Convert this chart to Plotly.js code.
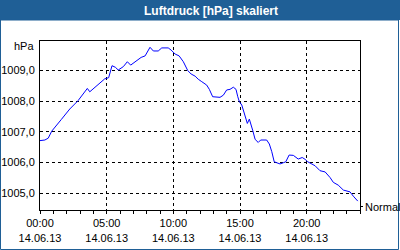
<!DOCTYPE html>
<html>
<head>
<meta charset="utf-8">
<script src="https://cdn.plot.ly/plotly-3.0.1.min.js"></script>
<style>html,body{margin:0;padding:0;background:#fff;}#chart{width:400px;height:250px;}</style>
</head>
<body>
<div id="chart"></div>
<script>
const day = "2013-06-14";
const times = ["00:00","00:22","00:37","00:53","01:36","02:14","02:51","03:14","03:33","03:44",
  "04:13","04:29","04:51","05:09","05:24","05:39","05:52","06:15","06:33","06:48",
  "07:08","07:35","07:53","08:15","08:30","08:52","09:08","09:37","09:50","10:08",
  "10:26","10:45","11:05","11:20","11:38","11:52","12:08","12:30","12:42","12:57",
  "13:30","13:45","14:00","14:15","14:30","14:42","14:50","14:57","15:08","15:23",
  "15:33","15:42","15:48","15:57","16:08","16:22","16:33","17:00","17:12","17:23",
  "17:34","17:50","18:00","18:15","18:26","18:41","19:00","19:22","19:40","19:53",
  "20:05","20:38","21:00","21:23","21:45","22:00","22:22","22:45","23:15","23:30","23:50"];
const pressure = [1006.71,1006.73,1006.79,1007.02,1007.40,1007.74,1008.01,1008.22,1008.41,1008.30,
  1008.47,1008.58,1008.72,1008.76,1009.15,1009.10,1009.01,1009.12,1009.28,1009.17,
  1009.28,1009.42,1009.47,1009.75,1009.63,1009.63,1009.73,1009.73,1009.66,1009.53,
  1009.47,1009.28,1008.99,1008.88,1008.81,1008.71,1008.63,1008.52,1008.38,1008.14,
  1008.12,1008.19,1008.36,1008.38,1008.45,1008.38,1008.14,1007.98,1007.87,1007.54,
  1007.27,1007.41,1007.29,1007.05,1006.75,1006.65,1006.73,1006.73,1006.60,1006.35,
  1006.02,1005.99,1005.95,1005.99,1006.02,1006.24,1006.23,1006.11,1006.16,1006.10,
  1006.02,1005.89,1005.73,1005.69,1005.51,1005.35,1005.26,1005.10,1005.04,1004.90,1004.74];
const yTickVals = [1005, 1006, 1007, 1008, 1009];
const yTickText = ["1005,0", "1006,0", "1007,0", "1008,0", "1009,0"];
const titleText = "Luftdruck [hPa] skaliert";
const unitLabel = "hPa";
const legendLabel = "Normal";

const W = 400, H = 250, mL = 40, mR = 40, mT = 41, mB = 40;
const pw = W - mL - mR, ph = H - mT - mB;
const px = v => (v - mL) / pw;          // pixel x -> paper
const py = v => (H - mB - v) / ph;      // pixel y -> paper
const barColor = "#1F5F96";
const font = "Liberation Sans, Arial, sans-serif";

const trace = {
  x: times.map(t => day + " " + t),
  y: pressure,
  type: "scatter",
  mode: "lines",
  line: {color: "#0000FF", width: 1},
  hoverinfo: "skip",
  showlegend: false
};

const layout = {
  width: W, height: H,
  margin: {l: mL, r: mR, t: mT, b: mB, pad: 0},
  paper_bgcolor: "#FFFFFF",
  plot_bgcolor: "#FFFFFF",
  font: {family: font, size: 11, color: "#000"},
  title: {
    text: "<b>" + titleText + "</b>",
    font: {family: font, size: 12, color: "#FFFFFF"},
    x: 211 / W, xref: "container", xanchor: "center",
    y: 1 - 10.5 / H, yref: "container", yanchor: "middle"
  },
  xaxis: {
    type: "date",
    range: [day + " 00:00", "2013-06-15 00:00"],
    tickmode: "linear",
    tick0: day + " 00:00",
    dtick: 5 * 3600000,
    tickformat: "%H:%M<br>%d.%m.%y",
    ticks: "outside", ticklen: 3, tickcolor: "#000", tickwidth: 1,
    minor: {dtick: 3600000, tick0: day + " 00:00", ticks: "outside", ticklen: 3, tickcolor: "#000", showgrid: false},
    showgrid: true, gridcolor: "#000", griddash: "3px,3px", gridwidth: 1,
    showline: true, linecolor: "#000", linewidth: 1, mirror: true,
    zeroline: false, fixedrange: true,
    tickfont: {family: font, size: 11, color: "#000"}
  },
  yaxis: {
    range: [1004.45, 1009.955],
    tickmode: "array", tickvals: yTickVals, ticktext: yTickText,
    ticks: "", ticklabelstandoff: 2,
    showgrid: true, gridcolor: "#000", griddash: "3px,3px", gridwidth: 1,
    showline: true, linecolor: "#000", linewidth: 1, mirror: true,
    zeroline: false, fixedrange: true,
    tickfont: {family: font, size: 11, color: "#000"}
  },
  shapes: [
    {type: "rect", xref: "paper", yref: "paper", x0: px(0), x1: px(400), y0: py(20), y1: py(0),
     fillcolor: barColor, line: {width: 0}, layer: "below"},
    {type: "rect", xref: "paper", yref: "paper", x0: px(0.5), x1: px(398.5), y0: py(249.5), y1: py(20),
     fillcolor: "rgba(0,0,0,0)", line: {color: barColor, width: 1}, layer: "below"},
    {type: "line", xref: "paper", yref: "paper", x0: px(360.5), x1: px(360.5), y0: py(203), y1: py(210),
     line: {color: "#000", width: 1}},
    {type: "line", xref: "paper", yref: "paper", x0: px(360.5), x1: px(363), y0: py(206.5), y1: py(206.5),
     line: {color: "#000", width: 1}}
  ],
  annotations: [
    {text: unitLabel, xref: "paper", yref: "paper", x: px(36), y: py(46), xanchor: "right", yanchor: "middle",
     showarrow: false, font: {family: font, size: 11, color: "#000"}},
    {text: legendLabel, xref: "paper", yref: "paper", x: px(363), y: py(207), xanchor: "left", yanchor: "middle",
     showarrow: false, font: {family: font, size: 11, color: "#000"}}
  ]
};

Plotly.newPlot("chart", [trace], layout, {displayModeBar: false, staticPlot: true});
</script>
</body>
</html>
